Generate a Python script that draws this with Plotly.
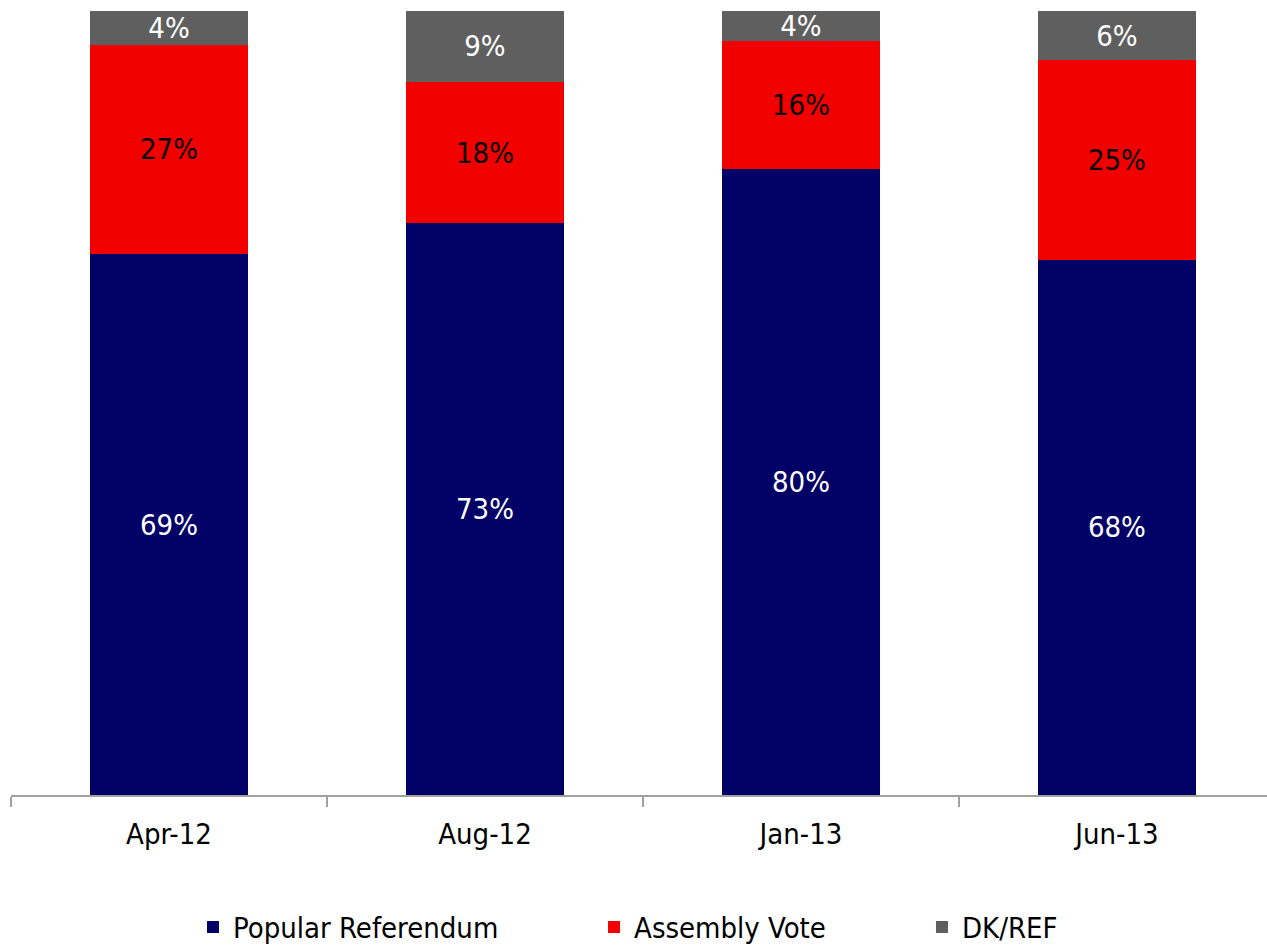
import plotly.graph_objects as go

categories = ["Apr-12", "Aug-12", "Jan-13", "Jun-13"]
popular_referendum = [69.0, 72.9, 79.9, 68.3]
assembly_vote = [26.7, 18.1, 16.3, 25.4]
dk_ref = [4.3, 9.0, 3.8, 6.3]

FONT = "DejaVu Sans Condensed, DejaVu Sans, sans-serif"
FS = 29

series = [
    ("Popular Referendum", popular_referendum, "#000066", "white", "legend"),
    ("Assembly Vote", assembly_vote, "#F20000", "black", "legend2"),
    ("DK/REF", dk_ref, "#5F5F5F", "white", "legend3"),
]

fig = go.Figure()
for name, vals, color, tcolor, leg in series:
    fig.add_trace(go.Bar(
        x=categories, y=vals, name=name, showlegend=True,
        marker=dict(color=color, line=dict(width=0)),
        texttemplate="%{y:.0f}%", textposition="inside",
        insidetextanchor="middle", textangle=0, constraintext="none",
        textfont=dict(color=tcolor, size=FS, family=FONT),
        legend=leg, hoverinfo="skip",
    ))

legend_common = dict(orientation="h", yanchor="middle", y=-0.1685,
                     xanchor="left", font=dict(size=FS, family=FONT, color="black"),
                     bgcolor="rgba(0,0,0,0)", itemwidth=30, tracegroupgap=0)
fig.update_layout(
    showlegend=True,
    barmode="stack", bargap=0.5,
    width=1267, height=948,
    margin=dict(l=11, r=0, t=11, b=153, autoexpand=False),
    paper_bgcolor="white", plot_bgcolor="white",
    font=dict(family=FONT, size=FS, color="black"),
    legend=dict(x=0.1449, **legend_common),
    legend2=dict(x=0.4642, **legend_common),
    legend3=dict(x=0.7253, **legend_common),
    xaxis=dict(range=[-0.5, 3.475], showline=True, linecolor="#A0A0A0", linewidth=2,
               ticks="outside", ticklen=10, tickwidth=2, tickcolor="#A0A0A0",
               tickson="boundaries", ticklabelstandoff=12, showgrid=False,
               tickfont=dict(size=FS, family=FONT, color="black")),
    yaxis=dict(range=[0, 100], visible=False, showgrid=False),
)

fig.write_html("out.html", config={"displayModeBar": False},
               post_script="document.body.style.margin='0';")
